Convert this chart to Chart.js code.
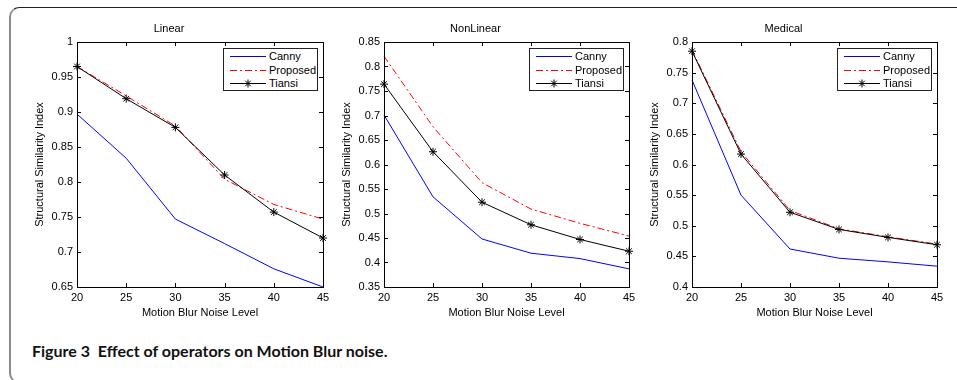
<!DOCTYPE html>
<html>
<head>
<meta charset="utf-8">
<script src="https://cdn.jsdelivr.net/npm/chart.js@4"></script>
<style>
body { margin: 0; background: #fff; width: 957px; height: 380px; overflow: hidden; position: relative; font-family: "Liberation Sans", Arial, sans-serif; }
.frame { position: absolute; left: 9px; top: 7px; width: 1000px; height: 374px; border-top: 1px solid #222; border-left: 2px solid #8a8a8a; border-bottom: 1px solid #555; border-top-left-radius: 10px; border-bottom-left-radius: 10px; }
canvas { position: absolute; top: 10px; }
.legend { position: absolute; top: 48px; width: 95px; height: 43px; box-sizing: border-box; border: 1px solid #222; background: #fff; font-size: 11px; color: #000; }
.legend svg { position: absolute; left: 6px; }
.legend span { position: absolute; left: 45px; line-height: 13px; }
.caption { position: absolute; left: 32px; top: 341px; font: bold 16px Lato, "Open Sans", sans-serif; color: #111; white-space: pre; }
</style>
</head>
<body>
<div class="frame"></div>
<canvas id="linear"></canvas>
<canvas id="nonlinear"></canvas>
<canvas id="medical"></canvas>
<div class="caption">Figure 3  Effect of operators on Motion Blur noise.</div>
<script>
var noiseLevels = [20, 25, 30, 35, 40, 45];
var seriesNames = ['Canny', 'Proposed', 'Tiansi'];

var linearCanny    = [0.897, 0.834, 0.747, 0.712, 0.676, 0.650];
var linearProposed = [0.965, 0.923, 0.880, 0.804, 0.768, 0.747];
var linearTiansi   = [0.965, 0.919, 0.878, 0.810, 0.757, 0.720];

var nonlinearCanny    = [0.701, 0.534, 0.448, 0.419, 0.408, 0.387];
var nonlinearProposed = [0.821, 0.677, 0.563, 0.509, 0.480, 0.454];
var nonlinearTiansi   = [0.764, 0.626, 0.523, 0.477, 0.447, 0.423];

var medicalCanny    = [0.738, 0.550, 0.462, 0.447, 0.441, 0.434];
var medicalProposed = [0.787, 0.621, 0.525, 0.495, 0.482, 0.470];
var medicalTiansi   = [0.785, 0.617, 0.522, 0.494, 0.481, 0.469];

var linearRange    = [0.65, 1];
var nonlinearRange = [0.35, 0.85];
var medicalRange   = [0.4, 0.8];

var FONT = { family: '"Liberation Sans", Arial, sans-serif', size: 11, weight: 'normal' };

// where each plot box sits on the page
var plots = [
    { id: 'linear', title: 'Linear', left: 77, right: 323, range: linearRange, values: [linearCanny, linearProposed, linearTiansi] },
    { id: 'nonlinear', title: 'NonLinear', left: 384, right: 629, range: nonlinearRange, values: [nonlinearCanny, nonlinearProposed, nonlinearTiansi] },
    { id: 'medical', title: 'Medical', left: 692, right: 937, range: medicalRange, values: [medicalCanny, medicalProposed, medicalTiansi] }
];

var styles = [
    { borderColor: '#0000ff', pointRadius: 0, order: 2 },
    { borderColor: '#ff0000', borderDash: [7, 3, 2, 3], pointRadius: 0, order: 1 },
    { borderColor: '#000000', pointStyle: 'star', pointRadius: 4, pointBorderColor: '#000', pointBorderWidth: 1, order: 0 }
];

// matlab style box with inward ticks on every side
var boxTicks = {
    id: 'boxTicks',
    afterDatasetsDraw: function(chart) {
        var a = chart.chartArea, ctx = chart.ctx, xs = chart.scales.x, ys = chart.scales.y, len = 4;
        ctx.save();
        ctx.strokeStyle = '#000';
        ctx.lineWidth = 1;
        ctx.beginPath();
        xs.ticks.forEach(function(t) {
            var px = Math.round(xs.getPixelForValue(t.value)) + 0.5;
            ctx.moveTo(px, a.bottom); ctx.lineTo(px, a.bottom - len);
            ctx.moveTo(px, a.top); ctx.lineTo(px, a.top + len);
        });
        ys.ticks.forEach(function(t) {
            var py = Math.round(ys.getPixelForValue(t.value)) + 0.5;
            ctx.moveTo(a.left, py); ctx.lineTo(a.left + len, py);
            ctx.moveTo(a.right, py); ctx.lineTo(a.right - len, py);
        });
        ctx.stroke();
        ctx.strokeRect(Math.round(a.left) + 0.5, Math.round(a.top) + 0.5, Math.round(a.right - a.left), Math.round(a.bottom - a.top));
        ctx.restore();
    }
};

function makeLegend(p) {
    var box = document.createElement('div');
    box.className = 'legend';
    box.style.left = (p.right - 5 - 95) + 'px';
    var rows = [8, 22, 35];
    var samples = [
        '<line x1="0" y1="5.5" x2="36" y2="5.5" stroke="#0000ff" stroke-width="1"/>',
        '<line x1="0" y1="5.5" x2="36" y2="5.5" stroke="#ff0000" stroke-width="1" stroke-dasharray="7,3,2,3"/>',
        '<line x1="0" y1="5.5" x2="36" y2="5.5" stroke="#000" stroke-width="1"/>' +
        '<path d="M18 1.5V9.5M14 5.5H22M15.2 2.7L20.8 8.3M20.8 2.7L15.2 8.3" stroke="#000" stroke-width="1"/>'
    ];
    seriesNames.forEach(function(name, i) {
        var y = rows[i] - 1;
        box.innerHTML += '<svg width="36" height="11" style="top:' + (y - 5) + 'px">' + samples[i] + '</svg>' +
            '<span style="top:' + (y - 6.5) + 'px">' + name + '</span>';
    });
    document.body.appendChild(box);
}

plots.forEach(function(p) {
    var canvas = document.getElementById(p.id);
    var w = (p.right - p.left) + 124;
    canvas.width = w;
    canvas.height = 310;
    canvas.style.left = (p.left - 62) + 'px';

    var datasets = p.values.map(function(vals, i) {
        return Object.assign({
            label: seriesNames[i],
            data: noiseLevels.map(function(x, j) { return { x: x, y: vals[j] }; }),
            borderWidth: 1,
            fill: false,
            tension: 0,
            clip: false
        }, styles[i]);
    });

    new Chart(canvas.getContext('2d'), {
        type: 'line',
        data: { datasets: datasets },
        options: {
            responsive: false,
            animation: false,
            devicePixelRatio: 1,
            layout: { padding: { left: 0, right: 62, top: 0, bottom: 0 } },
            plugins: {
                legend: { display: false },
                tooltip: { enabled: false },
                title: {
                    display: true,
                    text: p.title,
                    color: '#000',
                    font: FONT,
                    padding: { top: 12.4, bottom: 6.4 }
                }
            },
            scales: {
                x: {
                    type: 'linear',
                    min: 20,
                    max: 45,
                    grid: { display: false, drawTicks: false },
                    border: { display: false },
                    ticks: { stepSize: 5, color: '#000', font: FONT, padding: 4, maxRotation: 0 },
                    title: { display: true, text: 'Motion Blur Noise Level', color: '#000', font: FONT, padding: { top: 0, bottom: 0 } },
                    afterFit: function(s) { s.height = 33; }
                },
                y: {
                    min: p.range[0],
                    max: p.range[1],
                    grid: { display: false, drawTicks: false },
                    border: { display: false },
                    ticks: {
                        stepSize: 0.05,
                        color: '#000',
                        font: FONT,
                        padding: 4,
                        callback: function(v) { return String(+v.toFixed(2)); }
                    },
                    title: { display: true, text: 'Structural Similarity Index', color: '#000', font: FONT, padding: { top: 18, bottom: 0 } },
                    afterFit: function(s) { s.width = 62; }
                }
            }
        },
        plugins: [boxTicks]
    });

    makeLegend(p);
});
</script>
</body>
</html>
